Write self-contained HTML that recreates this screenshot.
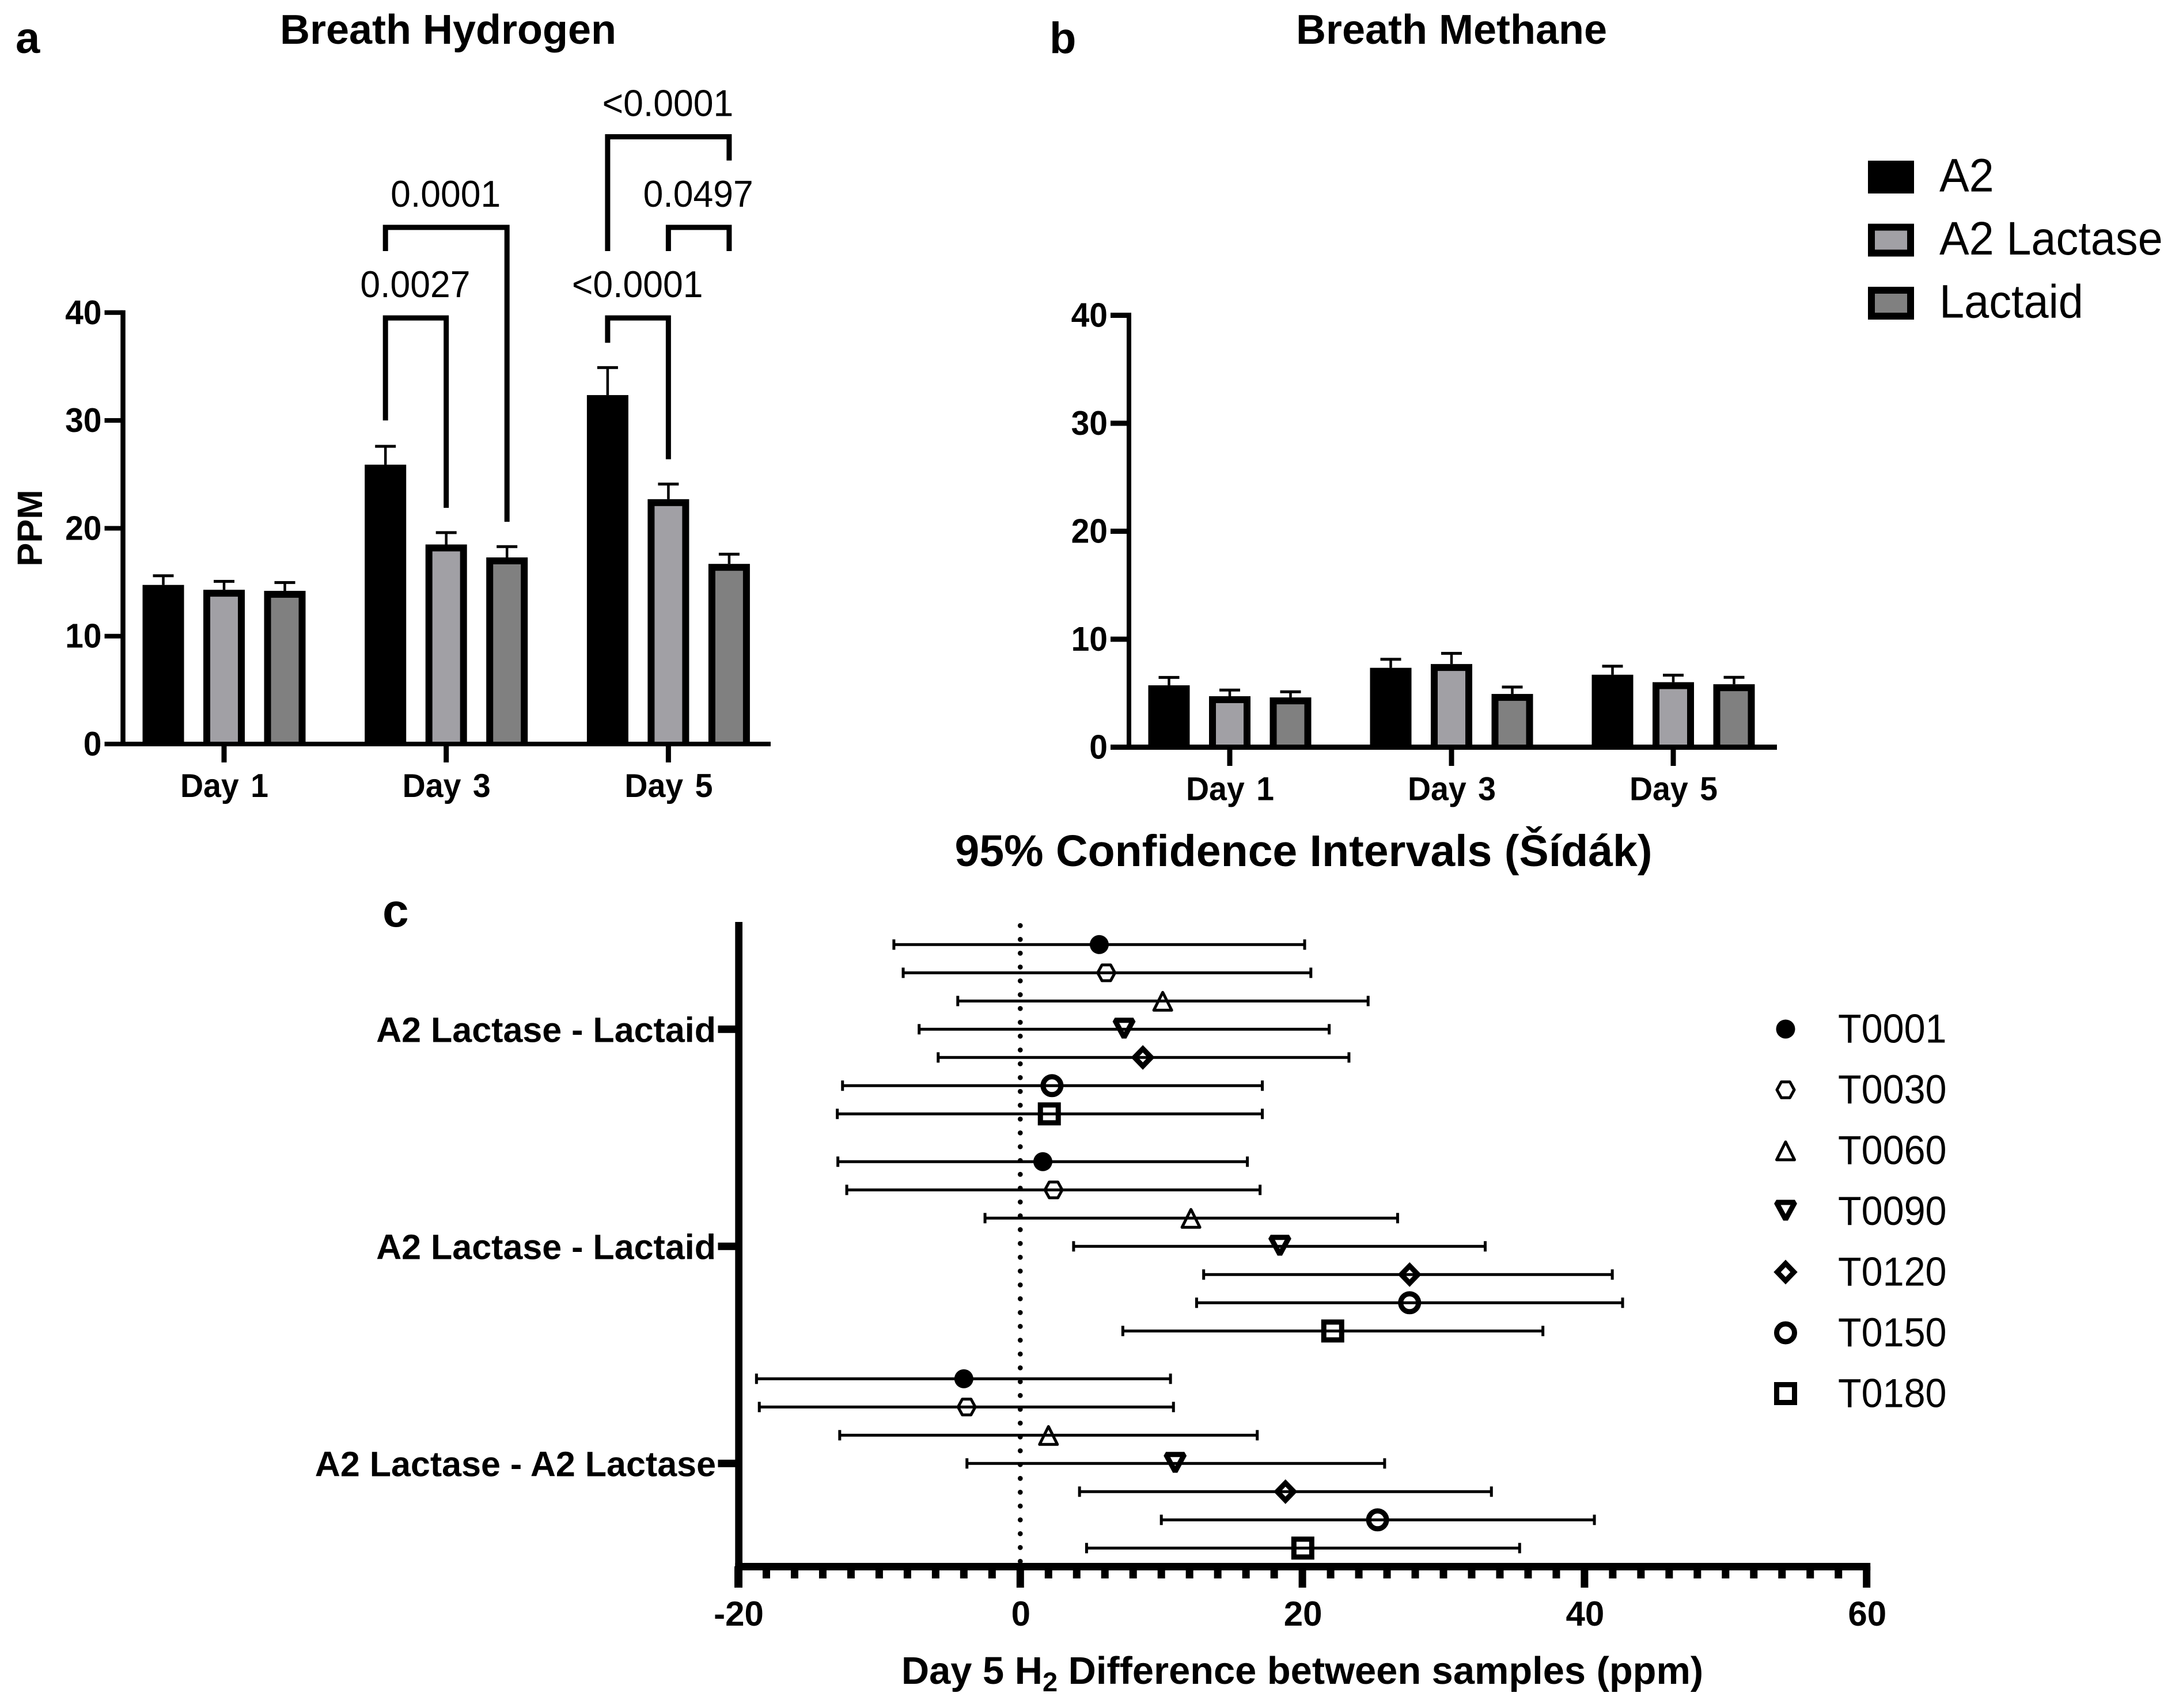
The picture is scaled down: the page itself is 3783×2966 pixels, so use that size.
<!DOCTYPE html>
<html lang="en">
<head>
<meta charset="utf-8">
<title>Breath Hydrogen and Methane</title>
<style>
html,body{margin:0;padding:0;background:#fff;}
svg{display:block;}
text{font-family:"Liberation Sans",Arial,sans-serif;fill:#000;}
</style>
</head>
<body>
<svg id="figure" xmlns="http://www.w3.org/2000/svg" width="3783" height="2966" viewBox="0 0 3783 2966">
<rect x="0" y="0" width="3783" height="2966" fill="#fff"/>
<g id="panel-a">
<text x="27" y="92" font-size="76" font-weight="700">a</text>
<text x="778" y="76" font-size="72" font-weight="700" text-anchor="middle">Breath Hydrogen</text>
<text transform="translate(73,917) rotate(-90)" font-size="61.5" font-weight="700" text-anchor="middle">PPM</text>
</g>
<g id="panel-b">
<text x="1822" y="92" font-size="76" font-weight="700">b</text>
<text x="2532" y="76" font-size="72" font-weight="700" text-anchor="middle" dx="-12">Breath Methane</text>
</g>
<g id="bar-legend"></g>
<g id="panel-c">
<text x="2263" y="1504" font-size="77" font-weight="700" text-anchor="middle">95% Confidence Intervals (Šídák)</text>
<text x="664" y="1609" font-size="82" font-weight="700">c</text>
<text x="2261" y="2924" font-size="66.8" font-weight="700" text-anchor="middle">Day 5 H<tspan font-size="47" dy="13">2</tspan><tspan dy="-13"> Difference between samples (ppm)</tspan></text>
</g>
</svg>
<script>
// ---- Bar chart data (panels a and b) ----
const dayLabels = ['Day 1', 'Day 3', 'Day 5'];
const seriesNames = ['A2', 'A2 Lactase', 'Lactaid'];
const seriesFills = ['#000000', '#a1a0a5', '#808080'];
const ppmTicks = [0, 10, 20, 30, 40];
const h2Means = [[14.75, 14.3, 14.2], [25.9, 18.5, 17.3], [32.35, 22.7, 16.7]];
const h2Upper = [[15.6, 15.08, 14.97], [27.6, 19.6, 18.3], [34.9, 24.1, 17.6]];
const ch4Means = [[5.73, 4.72, 4.61], [7.35, 7.7, 4.93], [6.71, 6.02, 5.83]];
const ch4Upper = [[6.46, 5.29, 5.13], [8.14, 8.69, 5.57], [7.5, 6.67, 6.47]];
// significance brackets: [label, from day, from series, to day, to series, top, left end, right end] in ppm
const h2Brackets = [
  ['0.0027', 1, 0, 1, 1, 39.5, 30.0, 21.9],
  ['0.0001', 1, 0, 1, 2, 47.9, 45.7, 20.6],
  ['<0.0001', 2, 0, 2, 1, 39.5, 37.2, 26.4],
  ['<0.0001', 2, 0, 2, 2, 56.3, 45.7, 54.1],
  ['0.0497', 2, 1, 2, 2, 47.9, 45.7, 45.7]
];

// ---- Confidence interval data (panel c) ----
const comparisonLabels = ['A2 Lactase - Lactaid', 'A2 Lactase - Lactaid', 'A2 Lactase - A2 Lactase'];
const timepoints = ['T0001', 'T0030', 'T0060', 'T0090', 'T0120', 'T0150', 'T0180'];
const ciXTicks = [-20, 0, 20, 40, 60];
const ciLow = [
  [-8.96, -8.3, -4.43, -7.17, -5.82, -12.6, -12.97],
  [-12.93, -12.3, -2.5, 3.78, 13.0, 12.5, 7.27],
  [-18.7, -18.5, -12.8, -3.78, 4.2, 10.0, 4.7]
];
const ciMean = [
  [5.6, 6.1, 10.1, 7.36, 8.69, 2.25, 2.06],
  [1.6, 2.36, 12.1, 18.4, 27.6, 27.6, 22.15],
  [-4.0, -3.8, 2.0, 10.98, 18.8, 25.33, 20.03]
];
const ciHigh = [
  [20.16, 20.6, 24.66, 21.9, 23.3, 17.16, 17.16],
  [16.1, 17.0, 26.75, 32.96, 41.97, 42.7, 37.05],
  [10.65, 10.86, 16.8, 25.83, 33.4, 40.7, 35.4]
];

// ---- helpers ----
const NS = 'http://www.w3.org/2000/svg';
function mk(tag, parent, attrs) {
  const node = document.createElementNS(NS, tag);
  for (const k in attrs) node.setAttribute(k, attrs[k]);
  parent.appendChild(node);
  return node;
}
function box(parent, x, y, w, h, fill) {
  return mk('rect', parent, {x: x, y: y, width: w, height: h, fill: fill});
}
function label(parent, str, x, y, size, weight, anchor, sy) {
  const node = mk('text', parent, {
    transform: 'translate(' + x + ',' + y + ') scale(1,' + sy + ')',
    'font-size': size, 'font-weight': weight, 'text-anchor': anchor
  });
  node.textContent = str;
  return node;
}
function slug(s) { return String(s).toLowerCase().replace(/[^a-z0-9]+/g, '-').replace(/^-|-$/g, ''); }

// ---- bar panels ----
function drawBars(parent, cfg, means, upper, prefix) {
  const y = v => cfg.y0 - v * cfg.unit;
  const groupX = g => cfg.x0 + g * cfg.groupStep;
  const barX = (g, s) => groupX(g) + (s - 1) * cfg.barStep;

  means.forEach((row, g) => {
    row.forEach((v, s) => {
      const group = mk('g', parent, {});
      
      
      const cx = barX(g, s);
      const top = y(v);
      const capY = y(upper[g][s]);
      box(group, cx - 2.25, capY, 4.5, top - capY, '#000');
      box(group, cx - 18, capY - 2.5, 36, 5, '#000');
      box(group, cx - 36, top, 72, cfg.y0 - top, '#000');
      if (s > 0) box(group, cx - 24, top + 12, 48, cfg.y0 - top - 12, seriesFills[s]);
    });
  });

  const yAxis = box(parent, cfg.x0Axis - cfg.yw / 2, y(40) - cfg.xw / 2, cfg.yw, cfg.y0 - y(40) + cfg.xw / 2, '#000');
  
  
  const xAxis = box(parent, cfg.x0Axis - 32, cfg.y0 - cfg.xw / 2, cfg.xEnd - cfg.x0Axis + 32, cfg.xw, '#000');
  
  

  ppmTicks.forEach(t => {
    const tick = box(parent, cfg.x0Axis - 32, y(t) - cfg.xw / 2, 32, cfg.xw, '#000');
    
    
    const tl = label(parent, String(t), cfg.x0Axis - 37, y(t) + 20, 57, 700, 'end', 1.04);
    
    
  });
  dayLabels.forEach((d, g) => {
    const tick = box(parent, groupX(g) - 4.5, cfg.y0, 9, cfg.tick, '#000');
    
    
    const tl = label(parent, d, groupX(g) + 0.5, cfg.y0 + 92, 55.5, 700, 'middle', 1.04);
    tl.setAttribute('word-spacing', '5');
    
    
  });
  return {y: y, barX: barX};
}

const panelA = document.getElementById('panel-a');
const scaleA = drawBars(panelA, {y0: 1292, unit: 18.73, x0: 389, groupStep: 385.7, barStep: 105.5, x0Axis: 213.5, yw: 8.5, xw: 8, xEnd: 1338, tick: 32}, h2Means, h2Upper, 'h2');
h2Brackets.forEach((b, i) => {
  const x1 = scaleA.barX(b[1], b[2]);
  const x2 = scaleA.barX(b[3], b[4]);
  const path = mk('path', panelA, {
    d: 'M' + x1 + ' ' + scaleA.y(b[6]) + 'V' + scaleA.y(b[5]) + 'H' + x2 + 'V' + scaleA.y(b[7]),
    fill: 'none', stroke: '#000', 'stroke-width': 9
  });
  
  
  const tl = label(panelA, b[0], (x1 + x2) / 2 - 1, scaleA.y(b[5]) - 36, 62.5, 400, 'middle', 1.04);
  
  
});

const panelB = document.getElementById('panel-b');
drawBars(panelB, {y0: 1297.5, unit: 18.75, x0: 2135, groupStep: 385, barStep: 105.5, x0Axis: 1960, yw: 8, xw: 9, xEnd: 3085, tick: 32.5}, ch4Means, ch4Upper, 'ch4');

// bar legend
const barLegend = document.getElementById('bar-legend');
seriesNames.forEach((name, s) => {
  const entry = mk('g', barLegend, {});
  
  
  const top = 279 + s * 109.5;
  box(entry, 3243, top, 80, 57, '#000');
  if (s > 0) box(entry, 3255, top + 12, 56, 33, seriesFills[s]);
  label(entry, name, 3367, top + 53.5, 77.5, 400, 'start', 1.05);
});

// ---- panel c ----
const panelC = document.getElementById('panel-c');
const cx = v => 1771.3 + v * 24.49;
const rowY = (c, r) => 1787.3 + c * 377 + (r - 3) * 49;
const MARKS = ['circle-fill', 'hexagon', 'triangle', 'triangle-down', 'diamond', 'circle', 'square'];
function marker(parent, kind, x, y) {
  const t = 'translate(' + x + ',' + y + ')';
  const thin = {fill: 'none', stroke: '#000', 'stroke-width': 5, transform: t};
  const bold = {fill: 'none', stroke: '#000', 'stroke-width': 9, transform: t};
  if (kind === 'circle-fill') return mk('circle', parent, {cx: x, cy: y, r: 16.5, fill: '#000'});
  if (kind === 'hexagon') return mk('path', parent, Object.assign({d: 'M-15 0L-7.5-13.7H7.5L15 0L7.5 13.7H-7.5Z', 'stroke-linejoin': 'round'}, thin));
  if (kind === 'triangle') return mk('path', parent, Object.assign({d: 'M0-15L15.5 16H-15.5Z', 'stroke-linejoin': 'round'}, thin));
  if (kind === 'triangle-down') return mk('path', parent, Object.assign({d: 'M-16-15.5H16L0 14Z', 'stroke-linejoin': 'bevel'}, bold));
  if (kind === 'diamond') return mk('path', parent, Object.assign({d: 'M0-15L14.5 0L0 15L-14.5 0Z', 'stroke-linejoin': 'miter'}, bold));
  if (kind === 'circle') return mk('circle', parent, {cx: x, cy: y, r: 15.5, fill: 'none', stroke: '#000', 'stroke-width': 9});
  return mk('rect', parent, {x: x - 15.5, y: y - 15.5, width: 31, height: 31, fill: 'none', stroke: '#000', 'stroke-width': 9});
}

const zeroLine = mk('line', panelC, {x1: cx(0), x2: cx(0), y1: 1607.3, y2: 2712, stroke: '#000', 'stroke-width': 8.7, 'stroke-linecap': 'round', 'stroke-dasharray': '0 24'});



ciMean.forEach((row, c) => {
  row.forEach((m, r) => {
    const g = mk('g', panelC, {});
    
    
    const yy = rowY(c, r);
    const lo = cx(ciLow[c][r]);
    const hi = cx(ciHigh[c][r]);
    box(g, lo, yy - 2.5, hi - lo, 5, '#000');
    box(g, lo - 2.5, yy - 9, 5, 18, '#000');
    box(g, hi - 2.5, yy - 9, 5, 18, '#000');
    marker(g, MARKS[r], cx(m), yy);
  });
});

const ciYAxis = box(panelC, 1276.3, 1601, 12.7, 1156, '#000');


const ciXAxis = box(panelC, 1276.3, 2714, cx(60) + 6.5 - 1276.3, 13, '#000');



comparisonLabels.forEach((name, c) => {
  const y = rowY(c, 3);
  const tick = box(panelC, 1246.5, y - 6.5, 32, 13, '#000');
  
  
  const tl = label(panelC, name, 1243, y + 22, 61, 700, 'end', 1);
  
  
});
for (let v = -18; v < 60; v += 2) {
  if (v % 20 === 0) continue;
  const tick = box(panelC, cx(v) - 6.5, 2720, 13, 21, '#000');
  
  
}
ciXTicks.forEach(t => {
  const tl = label(panelC, String(t), cx(t) + 1, 2823, 60, 700, 'middle', 1);
  
  
  const tick = box(panelC, cx(t) - 6.5, 2720, 13, 37, '#000');
  
  
});

timepoints.forEach((name, r) => {
  const entry = mk('g', panelC, {});
  
  
  const y = 1787 + r * 105.5;
  marker(entry, MARKS[r], 3100, y);
  label(entry, name, 3191, y + 23.5, 66.5, 400, 'start', 1.055);
});
</script>
</body>
</html>
